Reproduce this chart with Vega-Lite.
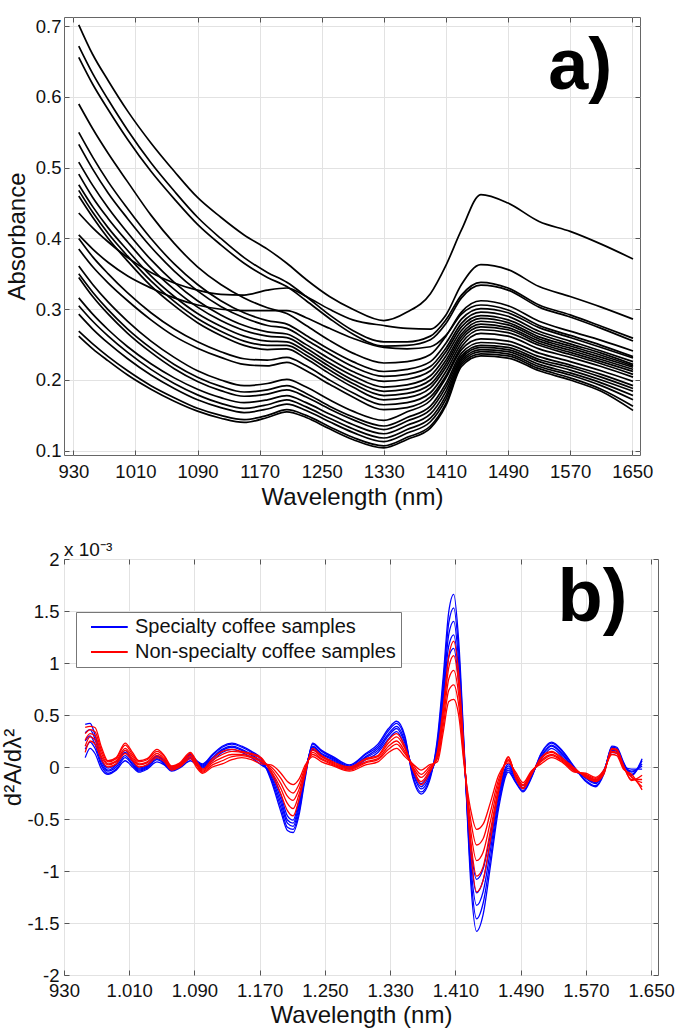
{
"$schema": "https://vega.github.io/schema/vega-lite/v6.json",
"background": "white",
"padding": {"left": 0, "top": 16, "right": 4, "bottom": 0},
"spacing": 30,
"config": {
  "font": "Liberation Sans",
  "view": {"stroke": "#666", "strokeWidth": 1},
  "axis": {"gridColor": "#e2e2e2", "gridWidth": 1, "domain": false, "tickColor": "#555", "labelFontSize": 18.5, "titleFontSize": 24, "titleFontWeight": "normal", "labelColor": "#111", "titleColor": "#111", "labelOverlap": false, "labelFlush": false}
},
"datasets": {
"A": [
{"s":1,"w":937,"v":0.702},{"s":1,"w":955,"v":0.66},{"s":1,"w":975,"v":0.623},{"s":1,"w":1000,"v":0.58},{"s":1,"w":1030,"v":0.535},{"s":1,"w":1060,"v":0.495},{"s":1,"w":1090,"v":0.458},{"s":1,"w":1120,"v":0.43},{"s":1,"w":1150,"v":0.405},{"s":1,"w":1180,"v":0.385},{"s":1,"w":1205,"v":0.365},{"s":1,"w":1230,"v":0.342},{"s":1,"w":1260,"v":0.318},{"s":1,"w":1290,"v":0.3},{"s":1,"w":1330,"v":0.284},{"s":1,"w":1360,"v":0.296},{"s":1,"w":1390,"v":0.322},{"s":1,"w":1410,"v":0.362},{"s":1,"w":1430,"v":0.412},{"s":1,"w":1455,"v":0.462},{"s":1,"w":1490,"v":0.45},{"s":1,"w":1530,"v":0.424},{"s":1,"w":1570,"v":0.41},{"s":1,"w":1610,"v":0.392},{"s":1,"w":1651,"v":0.371},
{"s":2,"w":937,"v":0.672},{"s":2,"w":955,"v":0.633},{"s":2,"w":975,"v":0.596},{"s":2,"w":1000,"v":0.553},{"s":2,"w":1030,"v":0.507},{"s":2,"w":1060,"v":0.467},{"s":2,"w":1090,"v":0.43},{"s":2,"w":1120,"v":0.4},{"s":2,"w":1150,"v":0.373},{"s":2,"w":1180,"v":0.352},{"s":2,"w":1205,"v":0.338},{"s":2,"w":1230,"v":0.318},{"s":2,"w":1260,"v":0.292},{"s":2,"w":1290,"v":0.27},{"s":2,"w":1330,"v":0.254},{"s":2,"w":1360,"v":0.254},{"s":2,"w":1390,"v":0.262},{"s":2,"w":1410,"v":0.285},{"s":2,"w":1430,"v":0.32},{"s":2,"w":1455,"v":0.338},{"s":2,"w":1490,"v":0.33},{"s":2,"w":1530,"v":0.306},{"s":2,"w":1570,"v":0.292},{"s":2,"w":1610,"v":0.276},{"s":2,"w":1651,"v":0.259},
{"s":3,"w":937,"v":0.656},{"s":3,"w":955,"v":0.618},{"s":3,"w":975,"v":0.582},{"s":3,"w":1000,"v":0.54},{"s":3,"w":1030,"v":0.495},{"s":3,"w":1060,"v":0.456},{"s":3,"w":1090,"v":0.42},{"s":3,"w":1120,"v":0.391},{"s":3,"w":1150,"v":0.365},{"s":3,"w":1180,"v":0.345},{"s":3,"w":1205,"v":0.332},{"s":3,"w":1230,"v":0.312},{"s":3,"w":1260,"v":0.287},{"s":3,"w":1290,"v":0.265},{"s":3,"w":1330,"v":0.248},{"s":3,"w":1360,"v":0.249},{"s":3,"w":1390,"v":0.257},{"s":3,"w":1410,"v":0.28},{"s":3,"w":1430,"v":0.316},{"s":3,"w":1455,"v":0.334},{"s":3,"w":1490,"v":0.327},{"s":3,"w":1530,"v":0.303},{"s":3,"w":1570,"v":0.289},{"s":3,"w":1610,"v":0.273},{"s":3,"w":1651,"v":0.255},
{"s":4,"w":937,"v":0.59},{"s":4,"w":955,"v":0.555},{"s":4,"w":975,"v":0.52},{"s":4,"w":1000,"v":0.48},{"s":4,"w":1030,"v":0.433},{"s":4,"w":1060,"v":0.393},{"s":4,"w":1090,"v":0.36},{"s":4,"w":1120,"v":0.335},{"s":4,"w":1150,"v":0.316},{"s":4,"w":1180,"v":0.302},{"s":4,"w":1205,"v":0.294},{"s":4,"w":1230,"v":0.277},{"s":4,"w":1260,"v":0.256},{"s":4,"w":1290,"v":0.238},{"s":4,"w":1330,"v":0.224},{"s":4,"w":1360,"v":0.226},{"s":4,"w":1390,"v":0.236},{"s":4,"w":1410,"v":0.262},{"s":4,"w":1430,"v":0.296},{"s":4,"w":1455,"v":0.312},{"s":4,"w":1490,"v":0.305},{"s":4,"w":1530,"v":0.283},{"s":4,"w":1570,"v":0.269},{"s":4,"w":1610,"v":0.256},{"s":4,"w":1651,"v":0.241},
{"s":5,"w":937,"v":0.55},{"s":5,"w":955,"v":0.515},{"s":5,"w":975,"v":0.48},{"s":5,"w":1000,"v":0.442},{"s":5,"w":1030,"v":0.4},{"s":5,"w":1060,"v":0.364},{"s":5,"w":1090,"v":0.335},{"s":5,"w":1120,"v":0.312},{"s":5,"w":1150,"v":0.295},{"s":5,"w":1180,"v":0.284},{"s":5,"w":1205,"v":0.279},{"s":5,"w":1230,"v":0.263},{"s":5,"w":1260,"v":0.243},{"s":5,"w":1290,"v":0.226},{"s":5,"w":1330,"v":0.212},{"s":5,"w":1360,"v":0.215},{"s":5,"w":1390,"v":0.226},{"s":5,"w":1410,"v":0.252},{"s":5,"w":1430,"v":0.286},{"s":5,"w":1455,"v":0.301},{"s":5,"w":1490,"v":0.295},{"s":5,"w":1530,"v":0.274},{"s":5,"w":1570,"v":0.26},{"s":5,"w":1610,"v":0.246},{"s":5,"w":1651,"v":0.231},
{"s":6,"w":937,"v":0.533},{"s":6,"w":955,"v":0.498},{"s":6,"w":975,"v":0.464},{"s":6,"w":1000,"v":0.428},{"s":6,"w":1030,"v":0.388},{"s":6,"w":1060,"v":0.354},{"s":6,"w":1090,"v":0.326},{"s":6,"w":1120,"v":0.304},{"s":6,"w":1150,"v":0.288},{"s":6,"w":1180,"v":0.277},{"s":6,"w":1205,"v":0.273},{"s":6,"w":1230,"v":0.257},{"s":6,"w":1260,"v":0.237},{"s":6,"w":1290,"v":0.219},{"s":6,"w":1330,"v":0.205},{"s":6,"w":1360,"v":0.208},{"s":6,"w":1390,"v":0.219},{"s":6,"w":1410,"v":0.245},{"s":6,"w":1430,"v":0.28},{"s":6,"w":1455,"v":0.296},{"s":6,"w":1490,"v":0.29},{"s":6,"w":1530,"v":0.269},{"s":6,"w":1570,"v":0.255},{"s":6,"w":1610,"v":0.241},{"s":6,"w":1651,"v":0.226},
{"s":7,"w":937,"v":0.508},{"s":7,"w":955,"v":0.475},{"s":7,"w":975,"v":0.443},{"s":7,"w":1000,"v":0.408},{"s":7,"w":1030,"v":0.37},{"s":7,"w":1060,"v":0.338},{"s":7,"w":1090,"v":0.312},{"s":7,"w":1120,"v":0.292},{"s":7,"w":1150,"v":0.277},{"s":7,"w":1180,"v":0.268},{"s":7,"w":1205,"v":0.265},{"s":7,"w":1230,"v":0.25},{"s":7,"w":1260,"v":0.23},{"s":7,"w":1290,"v":0.212},{"s":7,"w":1330,"v":0.198},{"s":7,"w":1360,"v":0.201},{"s":7,"w":1390,"v":0.213},{"s":7,"w":1410,"v":0.24},{"s":7,"w":1430,"v":0.275},{"s":7,"w":1455,"v":0.291},{"s":7,"w":1490,"v":0.285},{"s":7,"w":1530,"v":0.265},{"s":7,"w":1570,"v":0.251},{"s":7,"w":1610,"v":0.238},{"s":7,"w":1651,"v":0.222},
{"s":8,"w":937,"v":0.491},{"s":8,"w":955,"v":0.458},{"s":8,"w":975,"v":0.428},{"s":8,"w":1000,"v":0.395},{"s":8,"w":1030,"v":0.358},{"s":8,"w":1060,"v":0.328},{"s":8,"w":1090,"v":0.303},{"s":8,"w":1120,"v":0.284},{"s":8,"w":1150,"v":0.27},{"s":8,"w":1180,"v":0.262},{"s":8,"w":1205,"v":0.26},{"s":8,"w":1230,"v":0.245},{"s":8,"w":1260,"v":0.224},{"s":8,"w":1290,"v":0.206},{"s":8,"w":1330,"v":0.19},{"s":8,"w":1360,"v":0.193},{"s":8,"w":1390,"v":0.206},{"s":8,"w":1410,"v":0.234},{"s":8,"w":1430,"v":0.27},{"s":8,"w":1455,"v":0.287},{"s":8,"w":1490,"v":0.281},{"s":8,"w":1530,"v":0.261},{"s":8,"w":1570,"v":0.248},{"s":8,"w":1610,"v":0.235},{"s":8,"w":1651,"v":0.22},
{"s":9,"w":937,"v":0.476},{"s":9,"w":955,"v":0.445},{"s":9,"w":975,"v":0.415},{"s":9,"w":1000,"v":0.383},{"s":9,"w":1030,"v":0.347},{"s":9,"w":1060,"v":0.318},{"s":9,"w":1090,"v":0.294},{"s":9,"w":1120,"v":0.276},{"s":9,"w":1150,"v":0.262},{"s":9,"w":1180,"v":0.255},{"s":9,"w":1205,"v":0.254},{"s":9,"w":1230,"v":0.24},{"s":9,"w":1260,"v":0.219},{"s":9,"w":1290,"v":0.2},{"s":9,"w":1330,"v":0.184},{"s":9,"w":1360,"v":0.187},{"s":9,"w":1390,"v":0.2},{"s":9,"w":1410,"v":0.228},{"s":9,"w":1430,"v":0.265},{"s":9,"w":1455,"v":0.283},{"s":9,"w":1490,"v":0.278},{"s":9,"w":1530,"v":0.258},{"s":9,"w":1570,"v":0.245},{"s":9,"w":1610,"v":0.232},{"s":9,"w":1651,"v":0.218},
{"s":10,"w":937,"v":0.468},{"s":10,"w":955,"v":0.437},{"s":10,"w":975,"v":0.407},{"s":10,"w":1000,"v":0.375},{"s":10,"w":1030,"v":0.34},{"s":10,"w":1060,"v":0.311},{"s":10,"w":1090,"v":0.287},{"s":10,"w":1120,"v":0.269},{"s":10,"w":1150,"v":0.255},{"s":10,"w":1180,"v":0.249},{"s":10,"w":1205,"v":0.249},{"s":10,"w":1230,"v":0.235},{"s":10,"w":1260,"v":0.214},{"s":10,"w":1290,"v":0.195},{"s":10,"w":1330,"v":0.178},{"s":10,"w":1360,"v":0.181},{"s":10,"w":1390,"v":0.194},{"s":10,"w":1410,"v":0.223},{"s":10,"w":1430,"v":0.261},{"s":10,"w":1455,"v":0.279},{"s":10,"w":1490,"v":0.274},{"s":10,"w":1530,"v":0.255},{"s":10,"w":1570,"v":0.242},{"s":10,"w":1610,"v":0.229},{"s":10,"w":1651,"v":0.215},
{"s":11,"w":937,"v":0.46},{"s":11,"w":955,"v":0.43},{"s":11,"w":975,"v":0.4},{"s":11,"w":1000,"v":0.368},{"s":11,"w":1030,"v":0.333},{"s":11,"w":1060,"v":0.305},{"s":11,"w":1090,"v":0.281},{"s":11,"w":1120,"v":0.263},{"s":11,"w":1150,"v":0.249},{"s":11,"w":1180,"v":0.243},{"s":11,"w":1205,"v":0.244},{"s":11,"w":1230,"v":0.23},{"s":11,"w":1260,"v":0.209},{"s":11,"w":1290,"v":0.19},{"s":11,"w":1330,"v":0.172},{"s":11,"w":1360,"v":0.175},{"s":11,"w":1390,"v":0.189},{"s":11,"w":1410,"v":0.218},{"s":11,"w":1430,"v":0.257},{"s":11,"w":1455,"v":0.275},{"s":11,"w":1490,"v":0.271},{"s":11,"w":1530,"v":0.252},{"s":11,"w":1570,"v":0.239},{"s":11,"w":1610,"v":0.226},{"s":11,"w":1651,"v":0.212},
{"s":12,"w":937,"v":0.436},{"s":12,"w":955,"v":0.415},{"s":12,"w":975,"v":0.395},{"s":12,"w":1000,"v":0.373},{"s":12,"w":1030,"v":0.352},{"s":12,"w":1060,"v":0.337},{"s":12,"w":1090,"v":0.327},{"s":12,"w":1120,"v":0.321},{"s":12,"w":1150,"v":0.32},{"s":12,"w":1180,"v":0.327},{"s":12,"w":1205,"v":0.33},{"s":12,"w":1230,"v":0.318},{"s":12,"w":1260,"v":0.3},{"s":12,"w":1290,"v":0.285},{"s":12,"w":1330,"v":0.277},{"s":12,"w":1360,"v":0.273},{"s":12,"w":1390,"v":0.272},{"s":12,"w":1410,"v":0.292},{"s":12,"w":1430,"v":0.335},{"s":12,"w":1455,"v":0.363},{"s":12,"w":1490,"v":0.356},{"s":12,"w":1530,"v":0.332},{"s":12,"w":1570,"v":0.318},{"s":12,"w":1610,"v":0.303},{"s":12,"w":1651,"v":0.286},
{"s":13,"w":937,"v":0.405},{"s":13,"w":955,"v":0.385},{"s":13,"w":975,"v":0.366},{"s":13,"w":1000,"v":0.347},{"s":13,"w":1030,"v":0.33},{"s":13,"w":1060,"v":0.316},{"s":13,"w":1090,"v":0.306},{"s":13,"w":1120,"v":0.3},{"s":13,"w":1150,"v":0.298},{"s":13,"w":1180,"v":0.298},{"s":13,"w":1205,"v":0.298},{"s":13,"w":1230,"v":0.288},{"s":13,"w":1260,"v":0.273},{"s":13,"w":1290,"v":0.259},{"s":13,"w":1330,"v":0.246},{"s":13,"w":1360,"v":0.244},{"s":13,"w":1390,"v":0.247},{"s":13,"w":1410,"v":0.263},{"s":13,"w":1430,"v":0.293},{"s":13,"w":1455,"v":0.306},{"s":13,"w":1490,"v":0.299},{"s":13,"w":1530,"v":0.277},{"s":13,"w":1570,"v":0.263},{"s":13,"w":1610,"v":0.249},{"s":13,"w":1651,"v":0.233},
{"s":14,"w":937,"v":0.4},{"s":14,"w":955,"v":0.374},{"s":14,"w":975,"v":0.35},{"s":14,"w":1000,"v":0.323},{"s":14,"w":1030,"v":0.295},{"s":14,"w":1060,"v":0.272},{"s":14,"w":1090,"v":0.254},{"s":14,"w":1120,"v":0.24},{"s":14,"w":1150,"v":0.23},{"s":14,"w":1180,"v":0.228},{"s":14,"w":1205,"v":0.232},{"s":14,"w":1230,"v":0.22},{"s":14,"w":1260,"v":0.2},{"s":14,"w":1290,"v":0.182},{"s":14,"w":1330,"v":0.165},{"s":14,"w":1360,"v":0.168},{"s":14,"w":1390,"v":0.182},{"s":14,"w":1410,"v":0.212},{"s":14,"w":1430,"v":0.252},{"s":14,"w":1455,"v":0.271},{"s":14,"w":1490,"v":0.267},{"s":14,"w":1530,"v":0.249},{"s":14,"w":1570,"v":0.236},{"s":14,"w":1610,"v":0.223},{"s":14,"w":1651,"v":0.208},
{"s":15,"w":937,"v":0.385},{"s":15,"w":955,"v":0.36},{"s":15,"w":975,"v":0.337},{"s":15,"w":1000,"v":0.312},{"s":15,"w":1030,"v":0.285},{"s":15,"w":1060,"v":0.262},{"s":15,"w":1090,"v":0.245},{"s":15,"w":1120,"v":0.232},{"s":15,"w":1150,"v":0.222},{"s":15,"w":1180,"v":0.22},{"s":15,"w":1205,"v":0.225},{"s":15,"w":1230,"v":0.213},{"s":15,"w":1260,"v":0.194},{"s":15,"w":1290,"v":0.176},{"s":15,"w":1330,"v":0.158},{"s":15,"w":1360,"v":0.161},{"s":15,"w":1390,"v":0.176},{"s":15,"w":1410,"v":0.206},{"s":15,"w":1430,"v":0.247},{"s":15,"w":1455,"v":0.266},{"s":15,"w":1490,"v":0.262},{"s":15,"w":1530,"v":0.244},{"s":15,"w":1570,"v":0.232},{"s":15,"w":1610,"v":0.219},{"s":15,"w":1651,"v":0.204},
{"s":16,"w":937,"v":0.361},{"s":16,"w":955,"v":0.335},{"s":16,"w":975,"v":0.31},{"s":16,"w":1000,"v":0.283},{"s":16,"w":1030,"v":0.255},{"s":16,"w":1060,"v":0.232},{"s":16,"w":1090,"v":0.213},{"s":16,"w":1120,"v":0.2},{"s":16,"w":1150,"v":0.192},{"s":16,"w":1180,"v":0.195},{"s":16,"w":1205,"v":0.201},{"s":16,"w":1230,"v":0.19},{"s":16,"w":1260,"v":0.172},{"s":16,"w":1290,"v":0.156},{"s":16,"w":1330,"v":0.143},{"s":16,"w":1360,"v":0.155},{"s":16,"w":1390,"v":0.171},{"s":16,"w":1410,"v":0.203},{"s":16,"w":1430,"v":0.243},{"s":16,"w":1455,"v":0.258},{"s":16,"w":1490,"v":0.255},{"s":16,"w":1530,"v":0.238},{"s":16,"w":1570,"v":0.226},{"s":16,"w":1610,"v":0.213},{"s":16,"w":1651,"v":0.198},
{"s":17,"w":937,"v":0.35},{"s":17,"w":955,"v":0.324},{"s":17,"w":975,"v":0.299},{"s":17,"w":1000,"v":0.272},{"s":17,"w":1030,"v":0.245},{"s":17,"w":1060,"v":0.222},{"s":17,"w":1090,"v":0.204},{"s":17,"w":1120,"v":0.191},{"s":17,"w":1150,"v":0.183},{"s":17,"w":1180,"v":0.186},{"s":17,"w":1205,"v":0.192},{"s":17,"w":1230,"v":0.181},{"s":17,"w":1260,"v":0.163},{"s":17,"w":1290,"v":0.148},{"s":17,"w":1330,"v":0.135},{"s":17,"w":1360,"v":0.147},{"s":17,"w":1390,"v":0.163},{"s":17,"w":1410,"v":0.195},{"s":17,"w":1430,"v":0.238},{"s":17,"w":1455,"v":0.253},{"s":17,"w":1490,"v":0.25},{"s":17,"w":1530,"v":0.233},{"s":17,"w":1570,"v":0.221},{"s":17,"w":1610,"v":0.208},{"s":17,"w":1651,"v":0.192},
{"s":18,"w":937,"v":0.345},{"s":18,"w":955,"v":0.318},{"s":18,"w":975,"v":0.293},{"s":18,"w":1000,"v":0.266},{"s":18,"w":1030,"v":0.239},{"s":18,"w":1060,"v":0.216},{"s":18,"w":1090,"v":0.198},{"s":18,"w":1120,"v":0.185},{"s":18,"w":1150,"v":0.177},{"s":18,"w":1180,"v":0.18},{"s":18,"w":1205,"v":0.186},{"s":18,"w":1230,"v":0.176},{"s":18,"w":1260,"v":0.159},{"s":18,"w":1290,"v":0.144},{"s":18,"w":1330,"v":0.13},{"s":18,"w":1360,"v":0.142},{"s":18,"w":1390,"v":0.158},{"s":18,"w":1410,"v":0.19},{"s":18,"w":1430,"v":0.234},{"s":18,"w":1455,"v":0.249},{"s":18,"w":1490,"v":0.246},{"s":18,"w":1530,"v":0.229},{"s":18,"w":1570,"v":0.218},{"s":18,"w":1610,"v":0.204},{"s":18,"w":1651,"v":0.188},
{"s":19,"w":937,"v":0.316},{"s":19,"w":955,"v":0.293},{"s":19,"w":975,"v":0.271},{"s":19,"w":1000,"v":0.247},{"s":19,"w":1030,"v":0.223},{"s":19,"w":1060,"v":0.203},{"s":19,"w":1090,"v":0.187},{"s":19,"w":1120,"v":0.175},{"s":19,"w":1150,"v":0.168},{"s":19,"w":1180,"v":0.172},{"s":19,"w":1205,"v":0.178},{"s":19,"w":1230,"v":0.168},{"s":19,"w":1260,"v":0.152},{"s":19,"w":1290,"v":0.137},{"s":19,"w":1330,"v":0.124},{"s":19,"w":1360,"v":0.136},{"s":19,"w":1390,"v":0.152},{"s":19,"w":1410,"v":0.184},{"s":19,"w":1430,"v":0.231},{"s":19,"w":1455,"v":0.246},{"s":19,"w":1490,"v":0.243},{"s":19,"w":1530,"v":0.226},{"s":19,"w":1570,"v":0.214},{"s":19,"w":1610,"v":0.2},{"s":19,"w":1651,"v":0.184},
{"s":20,"w":937,"v":0.305},{"s":20,"w":955,"v":0.283},{"s":20,"w":975,"v":0.262},{"s":20,"w":1000,"v":0.239},{"s":20,"w":1030,"v":0.215},{"s":20,"w":1060,"v":0.195},{"s":20,"w":1090,"v":0.179},{"s":20,"w":1120,"v":0.167},{"s":20,"w":1150,"v":0.16},{"s":20,"w":1180,"v":0.165},{"s":20,"w":1205,"v":0.172},{"s":20,"w":1230,"v":0.162},{"s":20,"w":1260,"v":0.146},{"s":20,"w":1290,"v":0.131},{"s":20,"w":1330,"v":0.118},{"s":20,"w":1360,"v":0.13},{"s":20,"w":1390,"v":0.146},{"s":20,"w":1410,"v":0.178},{"s":20,"w":1430,"v":0.228},{"s":20,"w":1455,"v":0.243},{"s":20,"w":1490,"v":0.24},{"s":20,"w":1530,"v":0.222},{"s":20,"w":1570,"v":0.21},{"s":20,"w":1610,"v":0.196},{"s":20,"w":1651,"v":0.178},
{"s":21,"w":937,"v":0.293},{"s":21,"w":955,"v":0.272},{"s":21,"w":975,"v":0.252},{"s":21,"w":1000,"v":0.23},{"s":21,"w":1030,"v":0.207},{"s":21,"w":1060,"v":0.188},{"s":21,"w":1090,"v":0.172},{"s":21,"w":1120,"v":0.161},{"s":21,"w":1150,"v":0.154},{"s":21,"w":1180,"v":0.159},{"s":21,"w":1205,"v":0.166},{"s":21,"w":1230,"v":0.157},{"s":21,"w":1260,"v":0.141},{"s":21,"w":1290,"v":0.126},{"s":21,"w":1330,"v":0.113},{"s":21,"w":1360,"v":0.125},{"s":21,"w":1390,"v":0.141},{"s":21,"w":1410,"v":0.173},{"s":21,"w":1430,"v":0.225},{"s":21,"w":1455,"v":0.24},{"s":21,"w":1490,"v":0.237},{"s":21,"w":1530,"v":0.219},{"s":21,"w":1570,"v":0.207},{"s":21,"w":1610,"v":0.192},{"s":21,"w":1651,"v":0.172},
{"s":22,"w":937,"v":0.269},{"s":22,"w":955,"v":0.251},{"s":22,"w":975,"v":0.233},{"s":22,"w":1000,"v":0.213},{"s":22,"w":1030,"v":0.192},{"s":22,"w":1060,"v":0.175},{"s":22,"w":1090,"v":0.16},{"s":22,"w":1120,"v":0.15},{"s":22,"w":1150,"v":0.144},{"s":22,"w":1180,"v":0.15},{"s":22,"w":1205,"v":0.158},{"s":22,"w":1230,"v":0.15},{"s":22,"w":1260,"v":0.134},{"s":22,"w":1290,"v":0.119},{"s":22,"w":1330,"v":0.107},{"s":22,"w":1360,"v":0.119},{"s":22,"w":1390,"v":0.135},{"s":22,"w":1410,"v":0.167},{"s":22,"w":1430,"v":0.222},{"s":22,"w":1455,"v":0.237},{"s":22,"w":1490,"v":0.234},{"s":22,"w":1530,"v":0.216},{"s":22,"w":1570,"v":0.203},{"s":22,"w":1610,"v":0.187},{"s":22,"w":1651,"v":0.163},
{"s":23,"w":937,"v":0.262},{"s":23,"w":955,"v":0.244},{"s":23,"w":975,"v":0.227},{"s":23,"w":1000,"v":0.207},{"s":23,"w":1030,"v":0.187},{"s":23,"w":1060,"v":0.17},{"s":23,"w":1090,"v":0.156},{"s":23,"w":1120,"v":0.146},{"s":23,"w":1150,"v":0.14},{"s":23,"w":1180,"v":0.147},{"s":23,"w":1205,"v":0.155},{"s":23,"w":1230,"v":0.147},{"s":23,"w":1260,"v":0.131},{"s":23,"w":1290,"v":0.116},{"s":23,"w":1330,"v":0.104},{"s":23,"w":1360,"v":0.116},{"s":23,"w":1390,"v":0.132},{"s":23,"w":1410,"v":0.164},{"s":23,"w":1430,"v":0.219},{"s":23,"w":1455,"v":0.234},{"s":23,"w":1490,"v":0.231},{"s":23,"w":1530,"v":0.213},{"s":23,"w":1570,"v":0.2},{"s":23,"w":1610,"v":0.184},{"s":23,"w":1651,"v":0.157}
],
"B": [
{"s":1,"w":956,"v":0.41},{"s":2,"w":956,"v":0.33},{"s":3,"w":956,"v":0.25},{"s":4,"w":956,"v":0.17},{"s":5,"w":956,"v":0.09},
{"s":1,"w":962,"v":0.42},{"s":2,"w":962,"v":0.36},{"s":3,"w":962,"v":0.3},{"s":4,"w":962,"v":0.24},{"s":5,"w":962,"v":0.18},
{"s":1,"w":968,"v":0.31},{"s":2,"w":968,"v":0.27},{"s":3,"w":968,"v":0.22},{"s":4,"w":968,"v":0.18},{"s":5,"w":968,"v":0.13},
{"s":1,"w":976,"v":0.08},{"s":2,"w":976,"v":0.06},{"s":3,"w":976,"v":0.03},{"s":4,"w":976,"v":0.01},{"s":5,"w":976,"v":-0.02},
{"s":1,"w":984,"v":-0.01},{"s":2,"w":984,"v":-0.03},{"s":3,"w":984,"v":-0.04},{"s":4,"w":984,"v":-0.06},{"s":5,"w":984,"v":-0.07},
{"s":1,"w":994,"v":0.03},{"s":2,"w":994,"v":0.02},{"s":3,"w":994,"v":0},{"s":4,"w":994,"v":-0.02},{"s":5,"w":994,"v":-0.03},
{"s":1,"w":1005,"v":0.16},{"s":2,"w":1005,"v":0.14},{"s":3,"w":1005,"v":0.11},{"s":4,"w":1005,"v":0.09},{"s":5,"w":1005,"v":0.06},
{"s":1,"w":1014,"v":0.06},{"s":2,"w":1014,"v":0.05},{"s":3,"w":1014,"v":0.03},{"s":4,"w":1014,"v":0.02},{"s":5,"w":1014,"v":0},
{"s":1,"w":1022,"v":-0.01},{"s":2,"w":1022,"v":-0.02},{"s":3,"w":1022,"v":-0.03},{"s":4,"w":1022,"v":-0.04},{"s":5,"w":1022,"v":-0.05},
{"s":1,"w":1032,"v":0.02},{"s":2,"w":1032,"v":0.01},{"s":3,"w":1032,"v":0},{"s":4,"w":1032,"v":-0.01},{"s":5,"w":1032,"v":-0.02},
{"s":1,"w":1044,"v":0.11},{"s":2,"w":1044,"v":0.1},{"s":3,"w":1044,"v":0.08},{"s":4,"w":1044,"v":0.07},{"s":5,"w":1044,"v":0.05},
{"s":1,"w":1053,"v":0.06},{"s":2,"w":1053,"v":0.05},{"s":3,"w":1053,"v":0.04},{"s":4,"w":1053,"v":0.03},{"s":5,"w":1053,"v":0.02},
{"s":1,"w":1062,"v":0},{"s":2,"w":1062,"v":-0.01},{"s":3,"w":1062,"v":-0.02},{"s":4,"w":1062,"v":-0.03},{"s":5,"w":1062,"v":-0.04},
{"s":1,"w":1072,"v":0.03},{"s":2,"w":1072,"v":0.02},{"s":3,"w":1072,"v":0.01},{"s":4,"w":1072,"v":0},{"s":5,"w":1072,"v":-0.01},
{"s":1,"w":1085,"v":0.12},{"s":2,"w":1085,"v":0.11},{"s":3,"w":1085,"v":0.09},{"s":4,"w":1085,"v":0.08},{"s":5,"w":1085,"v":0.06},
{"s":1,"w":1093,"v":0.06},{"s":2,"w":1093,"v":0.05},{"s":3,"w":1093,"v":0.04},{"s":4,"w":1093,"v":0.03},{"s":5,"w":1093,"v":0.02},
{"s":1,"w":1100,"v":0.03},{"s":2,"w":1100,"v":0.02},{"s":3,"w":1100,"v":0.01},{"s":4,"w":1100,"v":0},{"s":5,"w":1100,"v":-0.01},
{"s":1,"w":1112,"v":0.12},{"s":2,"w":1112,"v":0.11},{"s":3,"w":1112,"v":0.09},{"s":4,"w":1112,"v":0.08},{"s":5,"w":1112,"v":0.06},
{"s":1,"w":1124,"v":0.2},{"s":2,"w":1124,"v":0.19},{"s":3,"w":1124,"v":0.17},{"s":4,"w":1124,"v":0.16},{"s":5,"w":1124,"v":0.14},
{"s":1,"w":1136,"v":0.23},{"s":2,"w":1136,"v":0.22},{"s":3,"w":1136,"v":0.2},{"s":4,"w":1136,"v":0.19},{"s":5,"w":1136,"v":0.17},
{"s":1,"w":1148,"v":0.2},{"s":2,"w":1148,"v":0.19},{"s":3,"w":1148,"v":0.17},{"s":4,"w":1148,"v":0.16},{"s":5,"w":1148,"v":0.14},
{"s":1,"w":1160,"v":0.15},{"s":2,"w":1160,"v":0.14},{"s":3,"w":1160,"v":0.12},{"s":4,"w":1160,"v":0.11},{"s":5,"w":1160,"v":0.09},
{"s":1,"w":1172,"v":0.08},{"s":2,"w":1172,"v":0.07},{"s":3,"w":1172,"v":0.05},{"s":4,"w":1172,"v":0.04},{"s":5,"w":1172,"v":0.02},
{"s":1,"w":1184,"v":-0.13},{"s":2,"w":1184,"v":-0.11},{"s":3,"w":1184,"v":-0.09},{"s":4,"w":1184,"v":-0.07},{"s":5,"w":1184,"v":-0.05},
{"s":1,"w":1196,"v":-0.43},{"s":2,"w":1196,"v":-0.39},{"s":3,"w":1196,"v":-0.35},{"s":4,"w":1196,"v":-0.31},{"s":5,"w":1196,"v":-0.27},
{"s":1,"w":1204,"v":-0.61},{"s":2,"w":1204,"v":-0.58},{"s":3,"w":1204,"v":-0.54},{"s":4,"w":1204,"v":-0.51},{"s":5,"w":1204,"v":-0.47},
{"s":1,"w":1211,"v":-0.63},{"s":2,"w":1211,"v":-0.6},{"s":3,"w":1211,"v":-0.57},{"s":4,"w":1211,"v":-0.54},{"s":5,"w":1211,"v":-0.51},
{"s":1,"w":1218,"v":-0.47},{"s":2,"w":1218,"v":-0.44},{"s":3,"w":1218,"v":-0.4},{"s":4,"w":1218,"v":-0.37},{"s":5,"w":1218,"v":-0.33},
{"s":1,"w":1226,"v":-0.1},{"s":2,"w":1226,"v":-0.08},{"s":3,"w":1226,"v":-0.06},{"s":4,"w":1226,"v":-0.04},{"s":5,"w":1226,"v":-0.02},
{"s":1,"w":1235,"v":0.23},{"s":2,"w":1235,"v":0.22},{"s":3,"w":1235,"v":0.2},{"s":4,"w":1235,"v":0.19},{"s":5,"w":1235,"v":0.17},
{"s":1,"w":1246,"v":0.16},{"s":2,"w":1246,"v":0.15},{"s":3,"w":1246,"v":0.13},{"s":4,"w":1246,"v":0.12},{"s":5,"w":1246,"v":0.1},
{"s":1,"w":1260,"v":0.1},{"s":2,"w":1260,"v":0.09},{"s":3,"w":1260,"v":0.08},{"s":4,"w":1260,"v":0.07},{"s":5,"w":1260,"v":0.06},
{"s":1,"w":1280,"v":0.02},{"s":2,"w":1280,"v":0.01},{"s":3,"w":1280,"v":0},{"s":4,"w":1280,"v":-0.01},{"s":5,"w":1280,"v":-0.02},
{"s":1,"w":1300,"v":0.13},{"s":2,"w":1300,"v":0.12},{"s":3,"w":1300,"v":0.1},{"s":4,"w":1300,"v":0.09},{"s":5,"w":1300,"v":0.07},
{"s":1,"w":1315,"v":0.22},{"s":2,"w":1315,"v":0.2},{"s":3,"w":1315,"v":0.18},{"s":4,"w":1315,"v":0.16},{"s":5,"w":1315,"v":0.14},
{"s":1,"w":1328,"v":0.37},{"s":2,"w":1328,"v":0.35},{"s":3,"w":1328,"v":0.32},{"s":4,"w":1328,"v":0.3},{"s":5,"w":1328,"v":0.27},
{"s":1,"w":1338,"v":0.44},{"s":2,"w":1338,"v":0.42},{"s":3,"w":1338,"v":0.39},{"s":4,"w":1338,"v":0.37},{"s":5,"w":1338,"v":0.34},
{"s":1,"w":1348,"v":0.3},{"s":2,"w":1348,"v":0.28},{"s":3,"w":1348,"v":0.25},{"s":4,"w":1348,"v":0.23},{"s":5,"w":1348,"v":0.2},
{"s":1,"w":1358,"v":-0.11},{"s":2,"w":1358,"v":-0.09},{"s":3,"w":1358,"v":-0.06},{"s":4,"w":1358,"v":-0.04},{"s":5,"w":1358,"v":-0.01},
{"s":1,"w":1368,"v":-0.26},{"s":2,"w":1368,"v":-0.24},{"s":3,"w":1368,"v":-0.21},{"s":4,"w":1368,"v":-0.19},{"s":5,"w":1368,"v":-0.16},
{"s":1,"w":1378,"v":-0.14},{"s":2,"w":1378,"v":-0.12},{"s":3,"w":1378,"v":-0.1},{"s":4,"w":1378,"v":-0.08},{"s":5,"w":1378,"v":-0.06},
{"s":1,"w":1388,"v":0.28},{"s":2,"w":1388,"v":0.24},{"s":3,"w":1388,"v":0.2},{"s":4,"w":1388,"v":0.16},{"s":5,"w":1388,"v":0.12},
{"s":1,"w":1395,"v":0.86},{"s":2,"w":1395,"v":0.79},{"s":3,"w":1395,"v":0.72},{"s":4,"w":1395,"v":0.65},{"s":5,"w":1395,"v":0.58},
{"s":1,"w":1402,"v":1.5},{"s":2,"w":1402,"v":1.39},{"s":3,"w":1402,"v":1.28},{"s":4,"w":1402,"v":1.17},{"s":5,"w":1402,"v":1.06},
{"s":1,"w":1408,"v":1.66},{"s":2,"w":1408,"v":1.53},{"s":3,"w":1408,"v":1.4},{"s":4,"w":1408,"v":1.27},{"s":5,"w":1408,"v":1.14},
{"s":1,"w":1414,"v":1.22},{"s":2,"w":1414,"v":1.12},{"s":3,"w":1414,"v":1.02},{"s":4,"w":1414,"v":0.92},{"s":5,"w":1414,"v":0.82},
{"s":1,"w":1421,"v":0.15},{"s":2,"w":1421,"v":0.13},{"s":3,"w":1421,"v":0.1},{"s":4,"w":1421,"v":0.08},{"s":5,"w":1421,"v":0.05},
{"s":1,"w":1429,"v":-1.13},{"s":2,"w":1429,"v":-1.04},{"s":3,"w":1429,"v":-0.95},{"s":4,"w":1429,"v":-0.86},{"s":5,"w":1429,"v":-0.77},
{"s":1,"w":1436,"v":-1.58},{"s":2,"w":1436,"v":-1.46},{"s":3,"w":1436,"v":-1.33},{"s":4,"w":1436,"v":-1.21},{"s":5,"w":1436,"v":-1.08},
{"s":1,"w":1444,"v":-1.42},{"s":2,"w":1444,"v":-1.31},{"s":3,"w":1444,"v":-1.2},{"s":4,"w":1444,"v":-1.09},{"s":5,"w":1444,"v":-0.98},
{"s":1,"w":1453,"v":-0.95},{"s":2,"w":1453,"v":-0.88},{"s":3,"w":1453,"v":-0.8},{"s":4,"w":1453,"v":-0.73},{"s":5,"w":1453,"v":-0.65},
{"s":1,"w":1463,"v":-0.4},{"s":2,"w":1463,"v":-0.36},{"s":3,"w":1463,"v":-0.32},{"s":4,"w":1463,"v":-0.28},{"s":5,"w":1463,"v":-0.24},
{"s":1,"w":1475,"v":-0.05},{"s":2,"w":1475,"v":-0.03},{"s":3,"w":1475,"v":-0.01},{"s":4,"w":1475,"v":0.01},{"s":5,"w":1475,"v":0.03},
{"s":1,"w":1484,"v":-0.15},{"s":2,"w":1484,"v":-0.14},{"s":3,"w":1484,"v":-0.12},{"s":4,"w":1484,"v":-0.11},{"s":5,"w":1484,"v":-0.09},
{"s":1,"w":1493,"v":-0.24},{"s":2,"w":1493,"v":-0.23},{"s":3,"w":1493,"v":-0.21},{"s":4,"w":1493,"v":-0.2},{"s":5,"w":1493,"v":-0.18},
{"s":1,"w":1503,"v":-0.11},{"s":2,"w":1503,"v":-0.1},{"s":3,"w":1503,"v":-0.09},{"s":4,"w":1503,"v":-0.08},{"s":5,"w":1503,"v":-0.07},
{"s":1,"w":1515,"v":0.13},{"s":2,"w":1515,"v":0.12},{"s":3,"w":1515,"v":0.1},{"s":4,"w":1515,"v":0.09},{"s":5,"w":1515,"v":0.07},
{"s":1,"w":1528,"v":0.24},{"s":2,"w":1528,"v":0.23},{"s":3,"w":1528,"v":0.21},{"s":4,"w":1528,"v":0.2},{"s":5,"w":1528,"v":0.18},
{"s":1,"w":1542,"v":0.15},{"s":2,"w":1542,"v":0.14},{"s":3,"w":1542,"v":0.12},{"s":4,"w":1542,"v":0.11},{"s":5,"w":1542,"v":0.09},
{"s":1,"w":1556,"v":0},{"s":2,"w":1556,"v":-0.01},{"s":3,"w":1556,"v":-0.02},{"s":4,"w":1556,"v":-0.03},{"s":5,"w":1556,"v":-0.04},
{"s":1,"w":1570,"v":-0.14},{"s":2,"w":1570,"v":-0.13},{"s":3,"w":1570,"v":-0.11},{"s":4,"w":1570,"v":-0.1},{"s":5,"w":1570,"v":-0.08},
{"s":1,"w":1582,"v":-0.19},{"s":2,"w":1582,"v":-0.18},{"s":3,"w":1582,"v":-0.16},{"s":4,"w":1582,"v":-0.15},{"s":5,"w":1582,"v":-0.13},
{"s":1,"w":1592,"v":-0.07},{"s":2,"w":1592,"v":-0.06},{"s":3,"w":1592,"v":-0.05},{"s":4,"w":1592,"v":-0.04},{"s":5,"w":1592,"v":-0.03},
{"s":1,"w":1602,"v":0.2},{"s":2,"w":1602,"v":0.19},{"s":3,"w":1602,"v":0.17},{"s":4,"w":1602,"v":0.16},{"s":5,"w":1602,"v":0.14},
{"s":1,"w":1608,"v":0.19},{"s":2,"w":1608,"v":0.18},{"s":3,"w":1608,"v":0.16},{"s":4,"w":1608,"v":0.15},{"s":5,"w":1608,"v":0.13},
{"s":1,"w":1616,"v":0.05},{"s":2,"w":1616,"v":0.04},{"s":3,"w":1616,"v":0.03},{"s":4,"w":1616,"v":0.02},{"s":5,"w":1616,"v":0.01},
{"s":1,"w":1626,"v":-0.08},{"s":2,"w":1626,"v":-0.07},{"s":3,"w":1626,"v":-0.05},{"s":4,"w":1626,"v":-0.04},{"s":5,"w":1626,"v":-0.02},
{"s":1,"w":1639,"v":0.08},{"s":2,"w":1639,"v":0.06},{"s":3,"w":1639,"v":0.03},{"s":4,"w":1639,"v":0.01},{"s":5,"w":1639,"v":-0.02}
],
"R": [
{"s":1,"w":956,"v":0.38},{"s":2,"w":956,"v":0.32},{"s":3,"w":956,"v":0.26},{"s":4,"w":956,"v":0.2},{"s":5,"w":956,"v":0.14},
{"s":1,"w":962,"v":0.39},{"s":2,"w":962,"v":0.36},{"s":3,"w":962,"v":0.32},{"s":4,"w":962,"v":0.29},{"s":5,"w":962,"v":0.25},
{"s":1,"w":968,"v":0.38},{"s":2,"w":968,"v":0.34},{"s":3,"w":968,"v":0.3},{"s":4,"w":968,"v":0.26},{"s":5,"w":968,"v":0.22},
{"s":1,"w":976,"v":0.19},{"s":2,"w":976,"v":0.16},{"s":3,"w":976,"v":0.13},{"s":4,"w":976,"v":0.1},{"s":5,"w":976,"v":0.07},
{"s":1,"w":984,"v":0.06},{"s":2,"w":984,"v":0.05},{"s":3,"w":984,"v":0.03},{"s":4,"w":984,"v":0.02},{"s":5,"w":984,"v":0},
{"s":1,"w":994,"v":0.09},{"s":2,"w":994,"v":0.08},{"s":3,"w":994,"v":0.06},{"s":4,"w":994,"v":0.05},{"s":5,"w":994,"v":0.03},
{"s":1,"w":1005,"v":0.23},{"s":2,"w":1005,"v":0.21},{"s":3,"w":1005,"v":0.18},{"s":4,"w":1005,"v":0.16},{"s":5,"w":1005,"v":0.13},
{"s":1,"w":1014,"v":0.14},{"s":2,"w":1014,"v":0.12},{"s":3,"w":1014,"v":0.1},{"s":4,"w":1014,"v":0.08},{"s":5,"w":1014,"v":0.06},
{"s":1,"w":1022,"v":0.06},{"s":2,"w":1022,"v":0.05},{"s":3,"w":1022,"v":0.03},{"s":4,"w":1022,"v":0.02},{"s":5,"w":1022,"v":0},
{"s":1,"w":1032,"v":0.08},{"s":2,"w":1032,"v":0.07},{"s":3,"w":1032,"v":0.05},{"s":4,"w":1032,"v":0.04},{"s":5,"w":1032,"v":0.02},
{"s":1,"w":1044,"v":0.17},{"s":2,"w":1044,"v":0.15},{"s":3,"w":1044,"v":0.13},{"s":4,"w":1044,"v":0.11},{"s":5,"w":1044,"v":0.09},
{"s":1,"w":1053,"v":0.11},{"s":2,"w":1053,"v":0.1},{"s":3,"w":1053,"v":0.08},{"s":4,"w":1053,"v":0.07},{"s":5,"w":1053,"v":0.05},
{"s":1,"w":1062,"v":0.01},{"s":2,"w":1062,"v":0},{"s":3,"w":1062,"v":-0.01},{"s":4,"w":1062,"v":-0.02},{"s":5,"w":1062,"v":-0.03},
{"s":1,"w":1072,"v":0.04},{"s":2,"w":1072,"v":0.03},{"s":3,"w":1072,"v":0.02},{"s":4,"w":1072,"v":0.01},{"s":5,"w":1072,"v":0},
{"s":1,"w":1085,"v":0.14},{"s":2,"w":1085,"v":0.13},{"s":3,"w":1085,"v":0.11},{"s":4,"w":1085,"v":0.1},{"s":5,"w":1085,"v":0.08},
{"s":1,"w":1093,"v":0.05},{"s":2,"w":1093,"v":0.04},{"s":3,"w":1093,"v":0.02},{"s":4,"w":1093,"v":0.01},{"s":5,"w":1093,"v":-0.01},
{"s":1,"w":1100,"v":-0.02},{"s":2,"w":1100,"v":-0.03},{"s":3,"w":1100,"v":-0.04},{"s":4,"w":1100,"v":-0.05},{"s":5,"w":1100,"v":-0.06},
{"s":1,"w":1112,"v":0.08},{"s":2,"w":1112,"v":0.06},{"s":3,"w":1112,"v":0.04},{"s":4,"w":1112,"v":0.02},{"s":5,"w":1112,"v":0},
{"s":1,"w":1124,"v":0.15},{"s":2,"w":1124,"v":0.12},{"s":3,"w":1124,"v":0.09},{"s":4,"w":1124,"v":0.06},{"s":5,"w":1124,"v":0.03},
{"s":1,"w":1136,"v":0.17},{"s":2,"w":1136,"v":0.15},{"s":3,"w":1136,"v":0.12},{"s":4,"w":1136,"v":0.1},{"s":5,"w":1136,"v":0.07},
{"s":1,"w":1148,"v":0.15},{"s":2,"w":1148,"v":0.14},{"s":3,"w":1148,"v":0.12},{"s":4,"w":1148,"v":0.11},{"s":5,"w":1148,"v":0.09},
{"s":1,"w":1160,"v":0.13},{"s":2,"w":1160,"v":0.12},{"s":3,"w":1160,"v":0.1},{"s":4,"w":1160,"v":0.09},{"s":5,"w":1160,"v":0.07},
{"s":1,"w":1172,"v":0.09},{"s":2,"w":1172,"v":0.08},{"s":3,"w":1172,"v":0.06},{"s":4,"w":1172,"v":0.05},{"s":5,"w":1172,"v":0.03},
{"s":1,"w":1184,"v":-0.06},{"s":2,"w":1184,"v":-0.04},{"s":3,"w":1184,"v":-0.02},{"s":4,"w":1184,"v":0},{"s":5,"w":1184,"v":0.02},
{"s":1,"w":1196,"v":-0.26},{"s":2,"w":1196,"v":-0.21},{"s":3,"w":1196,"v":-0.16},{"s":4,"w":1196,"v":-0.11},{"s":5,"w":1196,"v":-0.06},
{"s":1,"w":1204,"v":-0.42},{"s":2,"w":1204,"v":-0.35},{"s":3,"w":1204,"v":-0.28},{"s":4,"w":1204,"v":-0.21},{"s":5,"w":1204,"v":-0.14},
{"s":1,"w":1211,"v":-0.47},{"s":2,"w":1211,"v":-0.4},{"s":3,"w":1211,"v":-0.32},{"s":4,"w":1211,"v":-0.25},{"s":5,"w":1211,"v":-0.17},
{"s":1,"w":1218,"v":-0.32},{"s":2,"w":1218,"v":-0.27},{"s":3,"w":1218,"v":-0.22},{"s":4,"w":1218,"v":-0.17},{"s":5,"w":1218,"v":-0.12},
{"s":1,"w":1226,"v":-0.06},{"s":2,"w":1226,"v":-0.04},{"s":3,"w":1226,"v":-0.02},{"s":4,"w":1226,"v":0},{"s":5,"w":1226,"v":0.02},
{"s":1,"w":1235,"v":0.18},{"s":2,"w":1235,"v":0.16},{"s":3,"w":1235,"v":0.14},{"s":4,"w":1235,"v":0.12},{"s":5,"w":1235,"v":0.1},
{"s":1,"w":1246,"v":0.11},{"s":2,"w":1246,"v":0.1},{"s":3,"w":1246,"v":0.08},{"s":4,"w":1246,"v":0.07},{"s":5,"w":1246,"v":0.05},
{"s":1,"w":1260,"v":0.05},{"s":2,"w":1260,"v":0.04},{"s":3,"w":1260,"v":0.03},{"s":4,"w":1260,"v":0.02},{"s":5,"w":1260,"v":0.01},
{"s":1,"w":1280,"v":0},{"s":2,"w":1280,"v":-0.01},{"s":3,"w":1280,"v":-0.02},{"s":4,"w":1280,"v":-0.03},{"s":5,"w":1280,"v":-0.04},
{"s":1,"w":1300,"v":0.08},{"s":2,"w":1300,"v":0.07},{"s":3,"w":1300,"v":0.05},{"s":4,"w":1300,"v":0.04},{"s":5,"w":1300,"v":0.02},
{"s":1,"w":1315,"v":0.11},{"s":2,"w":1315,"v":0.1},{"s":3,"w":1315,"v":0.08},{"s":4,"w":1315,"v":0.07},{"s":5,"w":1315,"v":0.05},
{"s":1,"w":1328,"v":0.26},{"s":2,"w":1328,"v":0.23},{"s":3,"w":1328,"v":0.2},{"s":4,"w":1328,"v":0.17},{"s":5,"w":1328,"v":0.14},
{"s":1,"w":1338,"v":0.32},{"s":2,"w":1338,"v":0.29},{"s":3,"w":1338,"v":0.25},{"s":4,"w":1338,"v":0.22},{"s":5,"w":1338,"v":0.18},
{"s":1,"w":1348,"v":0.2},{"s":2,"w":1348,"v":0.18},{"s":3,"w":1348,"v":0.15},{"s":4,"w":1348,"v":0.13},{"s":5,"w":1348,"v":0.1},
{"s":1,"w":1358,"v":-0.03},{"s":2,"w":1358,"v":-0.02},{"s":3,"w":1358,"v":0},{"s":4,"w":1358,"v":0.02},{"s":5,"w":1358,"v":0.03},
{"s":1,"w":1368,"v":-0.17},{"s":2,"w":1368,"v":-0.14},{"s":3,"w":1368,"v":-0.1},{"s":4,"w":1368,"v":-0.07},{"s":5,"w":1368,"v":-0.03},
{"s":1,"w":1378,"v":-0.06},{"s":2,"w":1378,"v":-0.04},{"s":3,"w":1378,"v":-0.02},{"s":4,"w":1378,"v":0},{"s":5,"w":1378,"v":0.02},
{"s":1,"w":1388,"v":0.15},{"s":2,"w":1388,"v":0.13},{"s":3,"w":1388,"v":0.1},{"s":4,"w":1388,"v":0.08},{"s":5,"w":1388,"v":0.05},
{"s":1,"w":1395,"v":0.57},{"s":2,"w":1395,"v":0.51},{"s":3,"w":1395,"v":0.45},{"s":4,"w":1395,"v":0.39},{"s":5,"w":1395,"v":0.33},
{"s":1,"w":1402,"v":1.07},{"s":2,"w":1402,"v":0.96},{"s":3,"w":1402,"v":0.85},{"s":4,"w":1402,"v":0.74},{"s":5,"w":1402,"v":0.63},
{"s":1,"w":1408,"v":1.21},{"s":2,"w":1408,"v":1.07},{"s":3,"w":1408,"v":0.93},{"s":4,"w":1408,"v":0.79},{"s":5,"w":1408,"v":0.65},
{"s":1,"w":1414,"v":0.9},{"s":2,"w":1414,"v":0.8},{"s":3,"w":1414,"v":0.7},{"s":4,"w":1414,"v":0.6},{"s":5,"w":1414,"v":0.5},
{"s":1,"w":1421,"v":0.1},{"s":2,"w":1421,"v":0.08},{"s":3,"w":1421,"v":0.05},{"s":4,"w":1421,"v":0.03},{"s":5,"w":1421,"v":0},
{"s":1,"w":1429,"v":-0.82},{"s":2,"w":1429,"v":-0.72},{"s":3,"w":1429,"v":-0.62},{"s":4,"w":1429,"v":-0.52},{"s":5,"w":1429,"v":-0.42},
{"s":1,"w":1436,"v":-1.2},{"s":2,"w":1436,"v":-1.05},{"s":3,"w":1436,"v":-0.9},{"s":4,"w":1436,"v":-0.75},{"s":5,"w":1436,"v":-0.6},
{"s":1,"w":1444,"v":-1.09},{"s":2,"w":1444,"v":-0.96},{"s":3,"w":1444,"v":-0.82},{"s":4,"w":1444,"v":-0.69},{"s":5,"w":1444,"v":-0.55},
{"s":1,"w":1453,"v":-0.7},{"s":2,"w":1453,"v":-0.61},{"s":3,"w":1453,"v":-0.52},{"s":4,"w":1453,"v":-0.43},{"s":5,"w":1453,"v":-0.34},
{"s":1,"w":1463,"v":-0.24},{"s":2,"w":1463,"v":-0.2},{"s":3,"w":1463,"v":-0.16},{"s":4,"w":1463,"v":-0.12},{"s":5,"w":1463,"v":-0.08},
{"s":1,"w":1475,"v":0.1},{"s":2,"w":1475,"v":0.09},{"s":3,"w":1475,"v":0.07},{"s":4,"w":1475,"v":0.06},{"s":5,"w":1475,"v":0.04},
{"s":1,"w":1484,"v":-0.11},{"s":2,"w":1484,"v":-0.1},{"s":3,"w":1484,"v":-0.08},{"s":4,"w":1484,"v":-0.07},{"s":5,"w":1484,"v":-0.05},
{"s":1,"w":1493,"v":-0.21},{"s":2,"w":1493,"v":-0.2},{"s":3,"w":1493,"v":-0.18},{"s":4,"w":1493,"v":-0.17},{"s":5,"w":1493,"v":-0.15},
{"s":1,"w":1503,"v":-0.08},{"s":2,"w":1503,"v":-0.07},{"s":3,"w":1503,"v":-0.06},{"s":4,"w":1503,"v":-0.05},{"s":5,"w":1503,"v":-0.04},
{"s":1,"w":1515,"v":0.09},{"s":2,"w":1515,"v":0.08},{"s":3,"w":1515,"v":0.06},{"s":4,"w":1515,"v":0.05},{"s":5,"w":1515,"v":0.03},
{"s":1,"w":1528,"v":0.15},{"s":2,"w":1528,"v":0.14},{"s":3,"w":1528,"v":0.12},{"s":4,"w":1528,"v":0.11},{"s":5,"w":1528,"v":0.09},
{"s":1,"w":1542,"v":0.08},{"s":2,"w":1542,"v":0.07},{"s":3,"w":1542,"v":0.06},{"s":4,"w":1542,"v":0.05},{"s":5,"w":1542,"v":0.04},
{"s":1,"w":1556,"v":-0.01},{"s":2,"w":1556,"v":-0.02},{"s":3,"w":1556,"v":-0.03},{"s":4,"w":1556,"v":-0.04},{"s":5,"w":1556,"v":-0.05},
{"s":1,"w":1570,"v":-0.1},{"s":2,"w":1570,"v":-0.09},{"s":3,"w":1570,"v":-0.08},{"s":4,"w":1570,"v":-0.07},{"s":5,"w":1570,"v":-0.06},
{"s":1,"w":1582,"v":-0.14},{"s":2,"w":1582,"v":-0.13},{"s":3,"w":1582,"v":-0.12},{"s":4,"w":1582,"v":-0.11},{"s":5,"w":1582,"v":-0.1},
{"s":1,"w":1592,"v":-0.07},{"s":2,"w":1592,"v":-0.06},{"s":3,"w":1592,"v":-0.05},{"s":4,"w":1592,"v":-0.04},{"s":5,"w":1592,"v":-0.03},
{"s":1,"w":1602,"v":0.18},{"s":2,"w":1602,"v":0.17},{"s":3,"w":1602,"v":0.15},{"s":4,"w":1602,"v":0.14},{"s":5,"w":1602,"v":0.12},
{"s":1,"w":1608,"v":0.17},{"s":2,"w":1608,"v":0.16},{"s":3,"w":1608,"v":0.14},{"s":4,"w":1608,"v":0.13},{"s":5,"w":1608,"v":0.11},
{"s":1,"w":1616,"v":0.02},{"s":2,"w":1616,"v":0.01},{"s":3,"w":1616,"v":0},{"s":4,"w":1616,"v":-0.01},{"s":5,"w":1616,"v":-0.02},
{"s":1,"w":1626,"v":-0.13},{"s":2,"w":1626,"v":-0.12},{"s":3,"w":1626,"v":-0.1},{"s":4,"w":1626,"v":-0.09},{"s":5,"w":1626,"v":-0.07},
{"s":1,"w":1639,"v":-0.08},{"s":2,"w":1639,"v":-0.12},{"s":3,"w":1639,"v":-0.15},{"s":4,"w":1639,"v":-0.19},{"s":5,"w":1639,"v":-0.22}
]
},
"vconcat": [
{
  "width": 576,
  "height": 438,
  "resolve": {"axis": {"x": "independent", "y": "independent"}},
  "layer": [
    {
      "data": {"name": "A"},
      "mark": {"type": "line", "color": "#000000", "strokeWidth": 1.7, "interpolate": "monotone"},
      "encoding": {
        "x": {"field": "w", "type": "quantitative", "scale": {"domain": [918, 1660], "nice": false, "zero": false},
              "axis": {"values": [930,1010,1090,1170,1250,1330,1410,1490,1570,1650], "format": "d", "title": "Wavelength (nm)", "tickSize": -5, "labelPadding": 12, "titlePadding": 5}},
        "y": {"field": "v", "type": "quantitative", "scale": {"domain": [0.094, 0.713], "nice": false, "zero": false},
              "axis": {"values": [0.1,0.2,0.3,0.4,0.5,0.6,0.7], "format": ".1f", "title": "Absorbance", "tickSize": -5, "labelPadding": 8, "titlePadding": 6}},
        "detail": {"field": "s", "type": "nominal"}
      }
    },
    {
      "data": {"values": [{"w": 1583, "v": 0.611, "t": "a)"}]},
      "mark": {"type": "text", "fontSize": 72, "fontWeight": "bold", "align": "center", "baseline": "alphabetic", "color": "#000000"},
      "encoding": {
        "x": {"field": "w", "type": "quantitative", "scale": {"domain": [918, 1660], "nice": false, "zero": false},
              "axis": {"orient": "top", "values": [930,1010,1090,1170,1250,1330,1410,1490,1570,1650], "labels": false, "title": null, "grid": false, "tickSize": -5}},
        "y": {"field": "v", "type": "quantitative", "scale": {"domain": [0.094, 0.713], "nice": false, "zero": false},
              "axis": {"orient": "right", "values": [0.1,0.2,0.3,0.4,0.5,0.6,0.7], "labels": false, "title": null, "grid": false, "tickSize": -5}},
        "text": {"field": "t"}
      }
    }
  ]
},
{
  "width": 594,
  "height": 416,
  "title": {"text": "x 10⁻³", "anchor": "start", "frame": "group", "fontSize": 19, "fontWeight": "normal", "offset": -10, "color": "#111"},
  "resolve": {"axis": {"x": "independent", "y": "independent"}},
  "layer": [
    {
      "data": {"name": "B"},
      "mark": {"type": "line", "strokeWidth": 1.3, "interpolate": "monotone"},
      "encoding": {
        "x": {"field": "w", "type": "quantitative", "scale": {"domain": [930, 1658.5], "nice": false, "zero": false},
              "axis": {"values": [930,1010,1090,1170,1250,1330,1410,1490,1570,1650], "labelExpr": "replace(format(datum.value, ','), ',', '.')", "title": "Wavelength (nm)", "tickSize": -5, "labelPadding": 11, "titlePadding": 4}},
        "y": {"field": "v", "type": "quantitative", "scale": {"domain": [-2, 2], "nice": false, "zero": false},
              "axis": {"values": [-2,-1.5,-1,-0.5,0,0.5,1,1.5,2], "labelExpr": "'' + datum.value", "title": "d²A/dλ²", "tickSize": -5, "labelPadding": 10, "titlePadding": 2}},
        "detail": {"field": "s", "type": "nominal"},
        "color": {"datum": " Specialty coffee samples", "type": "nominal",
                  "scale": {"domain": [" Specialty coffee samples", "Non-specialty coffee samples"], "range": ["#0000ff", "#ff0000"]},
                  "legend": {"orient": "none", "legendX": 12, "legendY": 595, "title": null, "strokeColor": "#777", "fillColor": "#ffffff", "padding": 5, "labelFontSize": 20, "labelColor": "#111", "labelLimit": 500, "symbolType": "M0,0H6", "symbolSize": 150, "symbolStrokeWidth": 2, "labelOffset": 34, "rowPadding": 5}}
      }
    },
    {
      "data": {"name": "R"},
      "mark": {"type": "line", "strokeWidth": 1.3, "interpolate": "monotone"},
      "encoding": {
        "x": {"field": "w", "type": "quantitative", "axis": null},
        "y": {"field": "v", "type": "quantitative", "axis": null},
        "detail": {"field": "s", "type": "nominal"},
        "color": {"datum": "Non-specialty coffee samples", "type": "nominal"}
      }
    },
    {
      "data": {"values": [{"w": 1578, "v": 1.4, "t": "b)"}]},
      "mark": {"type": "text", "fontSize": 74, "fontWeight": "bold", "align": "center", "baseline": "alphabetic", "color": "#000000"},
      "encoding": {
        "x": {"field": "w", "type": "quantitative",
              "axis": {"orient": "top", "values": [930,1010,1090,1170,1250,1330,1410,1490,1570,1650], "labels": false, "title": null, "grid": false, "tickSize": -5}},
        "y": {"field": "v", "type": "quantitative",
              "axis": {"orient": "right", "values": [-2,-1.5,-1,-0.5,0,0.5,1,1.5,2], "labels": false, "title": null, "grid": false, "tickSize": -5}},
        "text": {"field": "t"}
      }
    }
  ]
}
]
}
